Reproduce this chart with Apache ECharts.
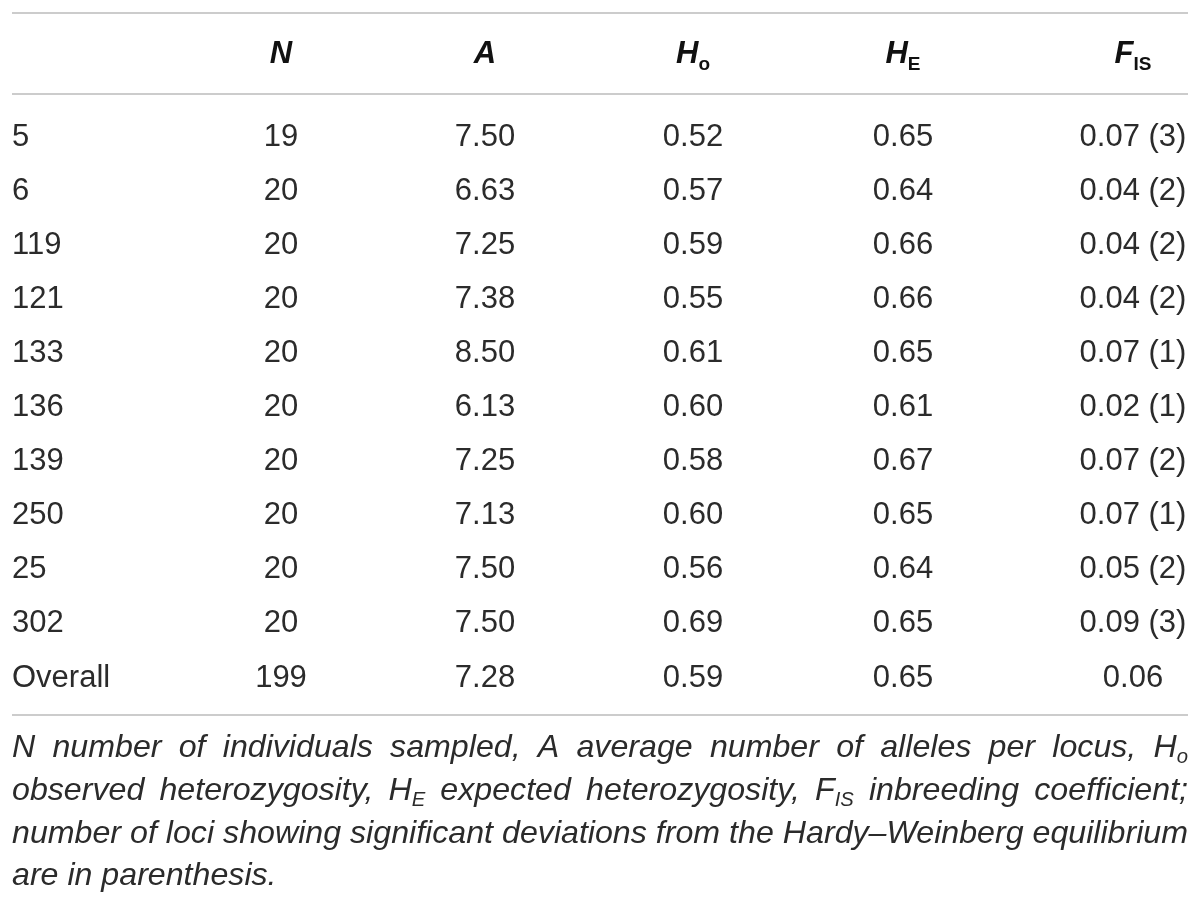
<!DOCTYPE html>
<html>
<head>
<meta charset="utf-8">
<script src="https://cdn.jsdelivr.net/npm/echarts@6/dist/echarts.min.js"></script>
<style>
html,body{margin:0;padding:0;background:#ffffff;}
#c{width:1200px;height:905px;}
</style>
</head>
<body>
<div id="c"></div>
<script>
// ---------------- data ----------------
const rowLabels = ['5','6','119','121','133','136','139','250','25','302','Overall'];
const columns = ['N','A','Ho','HE','FIS'];
const headerMain = ['N','A','H','H','F'];
const headerSub = ['','','o','E','IS'];
const nValues = [19,20,20,20,20,20,20,20,20,20,199];
const aValues = [7.50,6.63,7.25,7.38,8.50,6.13,7.25,7.13,7.50,7.50,7.28];
const hoValues = [0.52,0.57,0.59,0.55,0.61,0.60,0.58,0.60,0.56,0.69,0.59];
const heValues = [0.65,0.64,0.66,0.66,0.65,0.61,0.67,0.65,0.64,0.65,0.65];
const fisValues = [0.07,0.04,0.04,0.04,0.07,0.02,0.07,0.07,0.05,0.09,0.06];
const lociSig = [3,2,2,2,1,1,2,1,2,3,null];
const footnoteLines = [
  'N number of individuals sampled, A average number of alleles per locus, H_{o}',
  'observed heterozygosity, H_{E} expected heterozygosity, F_{IS} inbreeding coefficient;',
  'number of loci showing significant deviations from the Hardy\u2013Weinberg equilibrium',
  'are in parenthesis.'
];

// ---------------- styles ----------------
const FONT = '"Liberation Sans", Arial, Helvetica, sans-serif';
const TXT = '#2b2b2b';
const colShift = [6.4, -1.8, -6, -8.2, 9.6];

const colTexts = [
  nValues.map(v => String(v)),
  aValues.map(v => v.toFixed(2)),
  hoValues.map(v => v.toFixed(2)),
  heValues.map(v => v.toFixed(2)),
  fisValues.map((v, i) => v.toFixed(2) + (lociSig[i] != null ? ' (' + lociSig[i] + ')' : ''))
];

const headerRich = {
  m: {fontFamily: FONT, fontSize: 31, fontWeight: 'bold', fontStyle: 'italic', color: '#111', lineHeight: 40, verticalAlign: 'middle'},
  s: {fontFamily: FONT, fontSize: 19, fontWeight: 'bold', fontStyle: 'normal', color: '#111', lineHeight: 19, verticalAlign: 'bottom'}
};
colShift.forEach((s, i) => {
  headerRich['sp' + i] = {width: Math.abs(2 * s), fontSize: 10, lineHeight: 40};
});

const series = columns.map((c, k) => ({
  type: 'scatter',
  silent: true,
  symbolSize: 1,
  itemStyle: {color: 'rgba(0,0,0,0)', opacity: 1},
  emphasis: {disabled: true},
  data: rowLabels.map(r => [c, r]),
  label: {
    show: true,
    position: 'inside',
    offset: [colShift[k], 0],
    formatter: p => colTexts[k][p.dataIndex],
    fontFamily: FONT,
    fontSize: 31,
    color: TXT,
    opacity: 1
  }
}));

// ---------------- footnote layout ----------------
const measureCtx = document.createElement('canvas').getContext('2d');
function measure(text, size) {
  measureCtx.font = 'italic ' + size + 'px ' + FONT;
  return measureCtx.measureText(text).width;
}
const fnLeft = 12, fnRight = 1188;
// font size chosen so that the un-justified third line fills the text width
const FN_SIZE = Math.min(33, 30 * (fnRight - fnLeft) / measure(footnoteLines[2], 30));
const FN_SUB = FN_SIZE * 0.63;
const fnY = [748, 791, 834, 876];
const graphics = [];
[13, 94, 715].forEach(y => {
  graphics.push({type: 'line', silent: true, shape: {x1: 12, y1: y, x2: 1188, y2: y},
    style: {stroke: '#cccccc', lineWidth: 2}});
});
footnoteLines.forEach((line, li) => {
  const words = line.split(' ').map(w => {
    const m = w.match(/^(.*?)_\{([^}]*)\}(.*)$/);
    if (m) return [{t: m[1], sub: false}, {t: m[2], sub: true}, {t: m[3], sub: false}].filter(p => p.t);
    return [{t: w, sub: false}];
  });
  const widths = words.map(parts => parts.reduce((a, p) => a + measure(p.t, p.sub ? FN_SUB : FN_SIZE), 0));
  const total = widths.reduce((a, b) => a + b, 0);
  const justify = li < footnoteLines.length - 1;
  const gap = justify ? (fnRight - fnLeft - total) / (words.length - 1) : measure(' ', FN_SIZE);
  let x = fnLeft;
  words.forEach((parts, wi) => {
    let px = x;
    parts.forEach(p => {
      const size = p.sub ? FN_SUB : FN_SIZE;
      graphics.push({
        type: 'text', silent: true, x: px, y: fnY[li] + (p.sub ? 9 : 0),
        style: {text: p.t, fontFamily: FONT, fontSize: size, fontStyle: 'italic',
          fill: TXT, align: 'left', verticalAlign: 'middle'}
      });
      px += measure(p.t, size);
    });
    x += widths[wi] + gap;
  });
});

// ---------------- chart ----------------
const chart = echarts.init(document.getElementById('c'), null, {renderer: 'canvas'});
chart.setOption({
  animation: false,
  backgroundColor: '#ffffff',
  grid: {left: 274.6, right: 76.6, top: 110.5, bottom: 200},
  xAxis: {
    type: 'category',
    data: columns,
    position: 'top',
    boundaryGap: false,
    axisLine: {show: false},
    axisTick: {show: false},
    splitLine: {show: false},
    axisLabel: {
      interval: 0,
      margin: 56.5,
      verticalAlign: 'middle',
      hideOverlap: false,
      formatter: (v, i) => {
        const core = '{m|' + headerMain[i] + '}' + (headerSub[i] ? '{s|' + headerSub[i] + '}' : '');
        const sp = '{sp' + i + '| }';
        return colShift[i] >= 0 ? sp + core : core + sp;
      },
      rich: headerRich
    }
  },
  yAxis: {
    type: 'category',
    data: rowLabels,
    inverse: true,
    axisLine: {show: false},
    axisTick: {show: false},
    splitLine: {show: false},
    axisLabel: {
      interval: 0,
      align: 'left',
      margin: 262.6,
      fontFamily: FONT,
      fontSize: 31,
      color: TXT
    }
  },
  series: series,
  graphic: graphics
});
</script>
</body>
</html>
